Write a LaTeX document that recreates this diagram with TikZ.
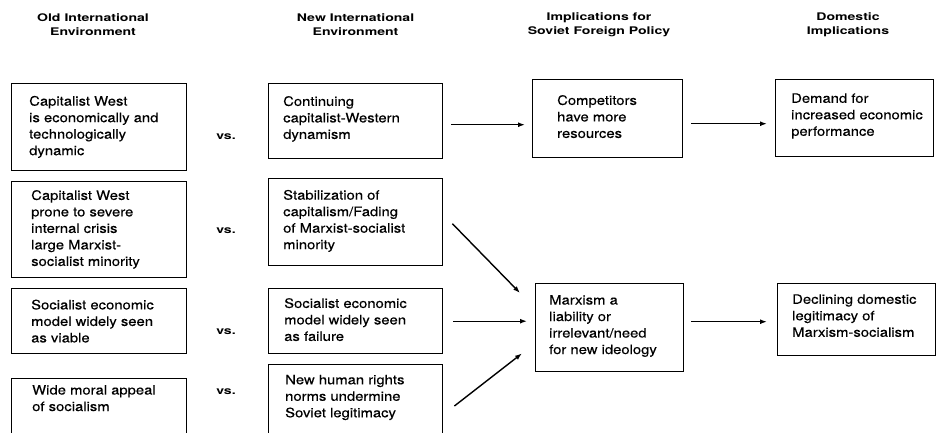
\documentclass[tikz,border=0pt]{standalone}
\usepackage{fontspec}
\setmainfont{TeX Gyre Heros}[FakeStretch=1.14, FakeBold=0.3]
\newfontfamily\hdrfont{TeX Gyre Heros}[FakeStretch=1.34]
\usetikzlibrary{arrows.meta}
\tikzset{
  box/.style={draw, line width=1.4pt, anchor=north west, inner sep=0pt},
  txt/.style={anchor=west, align=left, inner sep=0pt,
    font=\fontsize{13}{16.5}\selectfont,
    execute at begin node=\strut, execute at end node=\strut},
  hdr/.style={align=center, inner sep=0pt,
    font=\hdrfont\bfseries\fontsize{10.5}{14.5}\selectfont},
  vslab/.style={inner sep=0pt, font=\hdrfont\bfseries\fontsize{10.5}{14.5}\selectfont},
  arr/.style={-{Latex[length=7pt,width=5pt]}, line width=1.4pt},
}
\begin{document}
\begin{tikzpicture}[x=1pt,y=-1pt]
\useasboundingbox (0,0) rectangle (936,432);

% headers
\node[hdr] (h1) at (93,24.5) {Old International\\Environment};
\node[hdr] (h2) at (355.5,24.5) {New International\\Environment};
\node[hdr] (h3) at (599,24.5) {Implications for\\Soviet Foreign Policy};
\node[hdr] (h4) at (848,24.5) {Domestic\\Implications};

% left column boxes
\node[box, minimum width=175pt, minimum height=87pt] (a1) at (11,83) {};
\node[box, minimum width=175pt, minimum height=96pt] (a2) at (11,181) {};
\node[box, minimum width=175pt, minimum height=65pt] (a3) at (11,288) {};
\node[box, minimum width=175pt, minimum height=70pt] (a4) at (11,378) {};
\node[txt] (a1t) at (29,128) {Capitalist West\\is economically and\\technologically\\dynamic};
\node[txt] (a2t) at (31,230.5) {Capitalist West\\prone to severe\\internal crisis\\large Marxist-\\socialist minority};
\node[txt] (a3t) at (31,323.5) {Socialist economic\\model widely seen\\as viable};
\node[txt] (a4t) at (32,400.5) {Wide moral appeal\\of socialism};

% vs labels
\node[vslab] (v1) at (226,137) {vs.};
\node[vslab] (v2) at (226,231) {vs.};
\node[vslab] (v3) at (226,332) {vs.};
\node[vslab] (v4) at (226,392) {vs.};

% middle column boxes
\node[box, minimum width=174pt, minimum height=75pt] (b1) at (268,83) {};
\node[box, minimum width=174pt, minimum height=87pt] (b2) at (268,178) {};
\node[box, minimum width=174pt, minimum height=65pt] (b3) at (268,288) {};
\node[box, minimum width=174pt, minimum height=80pt] (b4) at (268,364) {};
\node[txt] (b1t) at (283,120) {Continuing\\capitalist-Western\\dynamism};
\node[txt] (b2t) at (283,222) {Stabilization of\\capitalism/Fading\\of Marxist-socialist\\minority};
\node[txt] (b3t) at (284,322) {Socialist economic\\model widely seen\\as failure};
\node[txt] (b4t) at (285,398.5) {New human rights\\norms undermine\\Soviet legitimacy};

% third column
\node[box, minimum width=150pt, minimum height=78pt] (c1) at (532,79) {};
\node[box, minimum width=148pt, minimum height=88pt] (c2) at (535,283) {};
\node[txt] (c1t) at (557,119) {Competitors\\have more\\resources};
\node[txt] (c2t) at (549,327) {Marxism a\\liability or\\irrelevant/need\\for new ideology};

% fourth column
\node[box, minimum width=158pt, minimum height=77pt] (d1) at (775,79) {};
\node[box, minimum width=158pt, minimum height=72pt] (d2) at (777,283) {};
\node[txt] (d1t) at (791,117) {Demand for\\increased economic\\performance};
\node[txt] (d2t) at (792,318) {Declining domestic\\legitimacy of\\Marxism-socialism};

% arrows
\draw[arr, shorten <=8pt, shorten >=7pt] ([yshift=-3.5pt]b1.east) -- ([yshift=-3.5pt]b1.east -| c1.west);
\draw[arr, shorten <=8pt, shorten >=8pt] ([yshift=-5pt]c1.east) -- ([yshift=-5pt]c1.east -| d1.west);
\draw[arr] ([xshift=9pt,yshift=-1.5pt]b2.east) -- ([xshift=-15pt,yshift=-10pt]c2.north west);
\draw[arr, shorten <=10pt, shorten >=8pt] (b3.east) -- (b3.east -| c2.west);
\draw[arr] ([xshift=11pt,yshift=-42pt]b4.north east) -- ([xshift=-13pt,yshift=19pt]c2.south west);
\draw[arr, shorten <=7pt, shorten >=10pt] ([yshift=6pt]c2.east) -- ([yshift=6pt]c2.east -| d2.west);
\end{tikzpicture}
\end{document}
